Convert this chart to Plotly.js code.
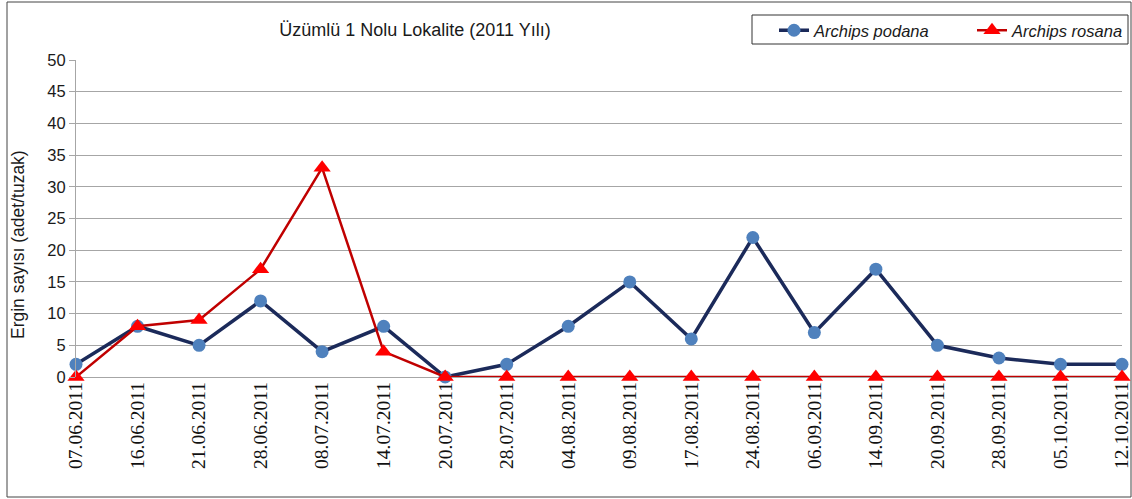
<!DOCTYPE html>
<html>
<head>
<meta charset="utf-8">
<script src="https://cdn.plot.ly/plotly-3.0.1.min.js"></script>
<style>
  html, body { margin: 0; padding: 0; background: #ffffff; }
  #chart { width: 1132px; height: 499px; }
</style>
</head>
<body>
<div id="chart"></div>
<script>
// Sampling dates (trap checks) in 2011
const dates = [
  '07.06.2011', '16.06.2011', '21.06.2011', '28.06.2011', '08.07.2011', '14.07.2011',
  '20.07.2011', '28.07.2011', '04.08.2011', '09.08.2011', '17.08.2011', '24.08.2011',
  '06.09.2011', '14.09.2011', '20.09.2011', '28.09.2011', '05.10.2011', '12.10.2011'
];

// Adults caught per trap
const podana = [2, 8, 5, 12, 4, 8, 0, 2, 8, 15, 6, 22, 7, 17, 5, 3, 2, 2];
const rosana = [0, 8, 9, 17, 33, 4, 0, 0, 0, 0, 0, 0, 0, 0, 0, 0, 0, 0];

const W = 1132, H = 499;
const M = { l: 76, r: 10, t: 60, b: 122, autoexpand: false };
const plotW = W - M.l - M.r, plotH = H - M.t - M.b;
// pixel -> paper helpers for frame shapes
const px = x => (x - M.l) / plotW;
const py = y => (H - M.b - y) / plotH;

const traces = [
  {
    type: 'scatter', mode: 'lines+markers', name: 'Archips podana',
    x: dates, y: podana, cliponaxis: false,
    line: { color: '#1b2a5a', width: 3.5 },
    marker: { symbol: 'circle', size: 13, color: '#4f81bd' }
  },
  {
    type: 'scatter', mode: 'lines+markers', name: 'Archips rosana',
    x: dates, y: rosana, cliponaxis: false,
    line: { color: '#c00000', width: 2.5 },
    marker: { symbol: 'triangle-up', size: 15, color: '#ff0000' }
  }
];

const layout = {
  width: W, height: H,
  margin: M,
  paper_bgcolor: '#ffffff', plot_bgcolor: '#ffffff',
  font: { family: 'Liberation Sans, Arial, sans-serif', color: '#222222' },
  title: {
    text: 'Üzümlü 1 Nolu Lokalite (2011 Yılı)',
    font: { family: 'Liberation Sans, Arial, sans-serif', size: 18, color: '#1a1a1a' },
    xref: 'container', x: 415 / W, xanchor: 'center',
    yref: 'container', y: 1 - 30 / H, yanchor: 'middle'
  },
  showlegend: true,
  legend: {
    orientation: 'h', x: px(774), xanchor: 'left', y: py(13), yanchor: 'top',
    font: { family: 'Liberation Sans, Arial, sans-serif', size: 16.5, style: 'italic', color: '#1a1a1a' },
    bgcolor: 'rgba(0,0,0,0)', borderwidth: 0,
    entrywidth: 153, entrywidthmode: 'pixels', itemwidth: 30
  },
  xaxis: {
    type: 'category', range: [0, dates.length - 1],
    showgrid: false, zeroline: false,
    showline: false, ticks: '',
    tickangle: -90,
    tickfont: { family: 'Liberation Serif, Times New Roman, serif', size: 19.5, color: '#111111' },
    fixedrange: true
  },
  yaxis: {
    range: [0, 50], dtick: 5, tick0: 0,
    showgrid: true, gridcolor: '#a6a6a6', gridwidth: 1,
    zeroline: true, zerolinecolor: '#a6a6a6', zerolinewidth: 1,
    showline: true, linecolor: '#a6a6a6', linewidth: 1,
    ticks: 'outside', ticklen: 6, tickcolor: '#a6a6a6',
    tickfont: { family: 'Liberation Sans, Arial, sans-serif', size: 16.5, color: '#1a1a1a' },
    fixedrange: true
  },
  annotations: [
    {
      text: 'Ergin sayısı (adet/tuzak)', textangle: -90,
      xref: 'paper', yref: 'paper', x: px(18), y: py(245),
      xanchor: 'center', yanchor: 'middle', showarrow: false,
      font: { family: 'Liberation Sans, Arial, sans-serif', size: 17.5, color: '#1a1a1a' }
    }
  ],
  shapes: [
    // outer chart frame
    { type: 'rect', xref: 'paper', yref: 'paper', layer: 'below',
      x0: px(7), x1: px(1131), y0: py(497), y1: py(2),
      line: { color: '#444444', width: 1 } },
    // legend box
    { type: 'rect', xref: 'paper', yref: 'paper', layer: 'below',
      x0: px(752), x1: px(1128), y0: py(44), y1: py(15),
      line: { color: '#333333', width: 1 }, fillcolor: '#ffffff' }
  ]
};

Plotly.newPlot('chart', traces, layout, { displayModeBar: false, staticPlot: true });
</script>
</body>
</html>
